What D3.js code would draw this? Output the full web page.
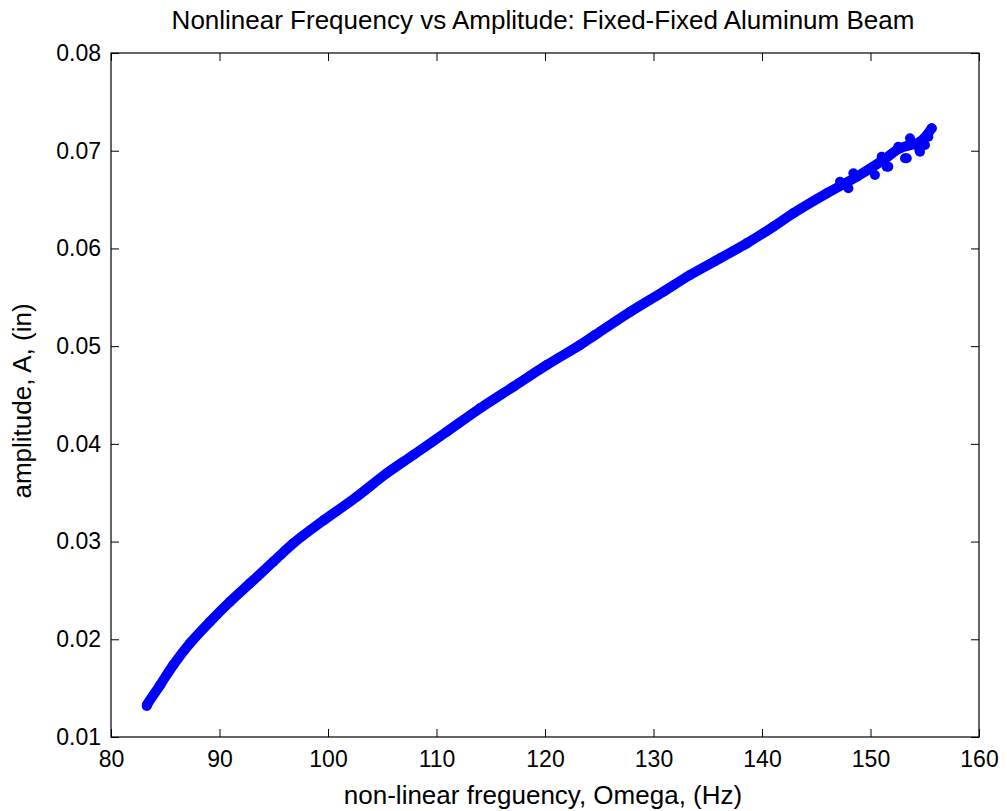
<!DOCTYPE html>
<html>
<head>
<meta charset="utf-8">
<script src="https://cdn.jsdelivr.net/npm/d3@7/dist/d3.min.js"></script>
<style>
  html, body { margin: 0; padding: 0; background: #fff; }
  svg { display: block; }
  text { font-family: "Liberation Sans", Arial, Helvetica, sans-serif; fill: #000; }
</style>
</head>
<body>
<script>
// ---- data ----
const freq = [83.30, 83.35, 84.52, 85.74, 87.28, 89.12, 90.97, 92.81, 94.96, 96.80,
              99.57, 102.65, 105.41, 107.86, 110.94, 114.01, 117.08, 120.16, 123.23, 124.61,
              127.83, 130.90, 133.36, 136.13, 138.59, 141.04, 142.88, 145.96, 148.73,
              151.18, 152.72, 154.56, 155.64];
const amp  = [0.0132, 0.01335, 0.0153, 0.01737, 0.01959, 0.0218, 0.02385, 0.02573, 0.02794, 0.02982,
              0.03215, 0.03459, 0.03699, 0.03886, 0.04124, 0.04364, 0.04585, 0.04807, 0.05012, 0.05114,
              0.0535, 0.05557, 0.05728, 0.05899, 0.06052, 0.06222, 0.0636, 0.06564, 0.06734,
              0.06905, 0.07025, 0.07092, 0.07229];
const scatterFreq = [147.19, 147.96, 150.41, 151.64, 153.34, 154.50, 155.02, 148.42, 151.03, 152.56,
                     153.64, 155.33, 154.56, 153.18, 151.49];
const scatterAmp  = [0.06683, 0.06615, 0.06751, 0.06837, 0.06922, 0.07007, 0.07058, 0.06769, 0.06939, 0.07041,
                     0.07127, 0.07144, 0.0699, 0.06922, 0.06837];
const xTicks = [80, 90, 100, 110, 120, 130, 140, 150, 160];
const yTicks = [0.01, 0.02, 0.03, 0.04, 0.05, 0.06, 0.07, 0.08];
const xTickLabels = ["80", "90", "100", "110", "120", "130", "140", "150", "160"];
const yTickLabels = ["0.01", "0.02", "0.03", "0.04", "0.05", "0.06", "0.07", "0.08"];
const titleText = "Nonlinear Frequency vs Amplitude: Fixed-Fixed Aluminum Beam";
const xLabelText = "non-linear freguency, Omega, (Hz)";
const yLabelText = "amplitude, A, (in)";

// ---- layout ----
const W = 1007, H = 811;
const L = 111, R = 979, T = 53, B = 737;
const color = "#0000FF";
const tickLen = 8;

const svg = d3.select("body").append("svg").attr("width", W).attr("height", H);
svg.append("rect").attr("width", W).attr("height", H).attr("fill", "#fff");

const x = d3.scaleLinear().domain([80, 160]).range([L, R]);
const y = d3.scaleLinear().domain([0.01, 0.08]).range([B, T]);

// data marks
const pts = freq.map((f, i) => ({f, a: amp[i]}));
const sc = scatterFreq.map((f, i) => ({f, a: scatterAmp[i]}));

const line = d3.line().x(d => x(d.f)).y(d => y(d.a)).curve(d3.curveCatmullRom);
svg.append("path").datum(pts)
  .attr("d", line)
  .attr("fill", "none")
  .attr("stroke", color)
  .attr("stroke-width", 10)
  .attr("stroke-linecap", "round")
  .attr("stroke-linejoin", "round");

svg.append("g").selectAll("circle").data(pts.concat(sc)).join("circle")
  .attr("cx", d => x(d.f)).attr("cy", d => y(d.a)).attr("r", 5)
  .attr("fill", color);

// axes (MATLAB style: box, ticks inside on all sides)
const fmtX = d => xTickLabels[xTicks.indexOf(d)];
const fmtY = d => yTickLabels[yTicks.indexOf(d)];

const axB = svg.append("g").attr("transform", `translate(0,${B})`)
  .call(d3.axisBottom(x).tickValues(xTicks).tickFormat(fmtX).tickSizeInner(-tickLen).tickSizeOuter(0).tickPadding(14));
const axT = svg.append("g").attr("transform", `translate(0,${T})`)
  .call(d3.axisTop(x).tickValues(xTicks).tickFormat("").tickSizeInner(-tickLen).tickSizeOuter(0));
const axL = svg.append("g").attr("transform", `translate(${L},0)`)
  .call(d3.axisLeft(y).tickValues(yTicks).tickFormat(fmtY).tickSizeInner(-tickLen).tickSizeOuter(0).tickPadding(10));
const axR = svg.append("g").attr("transform", `translate(${R},0)`)
  .call(d3.axisRight(y).tickValues(yTicks).tickFormat("").tickSizeInner(-tickLen).tickSizeOuter(0));

[axB, axT, axL, axR].forEach(g => {
  g.select(".domain").remove();
  g.selectAll("line").attr("stroke", "#000").attr("stroke-width", 1);
  g.selectAll("text").style("font-size", "23px").attr("fill", "#000")
    .style("font-family", '"Liberation Sans", Arial, sans-serif');
});
axB.selectAll("text").attr("dy", "0.71em");

svg.append("rect").attr("x", L).attr("y", T).attr("width", R - L).attr("height", B - T)
  .attr("fill", "none").attr("stroke", "#000").attr("stroke-width", 1.2);

// title and labels
svg.append("text").attr("x", 543).attr("y", 29).attr("text-anchor", "middle")
  .style("font-size", "26px").text(titleText);
svg.append("text").attr("x", 543).attr("y", 804).attr("text-anchor", "middle")
  .style("font-size", "26px").text(xLabelText);
svg.append("text").attr("transform", `translate(31,401) rotate(-90)`)
  .attr("text-anchor", "middle").style("font-size", "26px").text(yLabelText);
</script>
</body>
</html>
